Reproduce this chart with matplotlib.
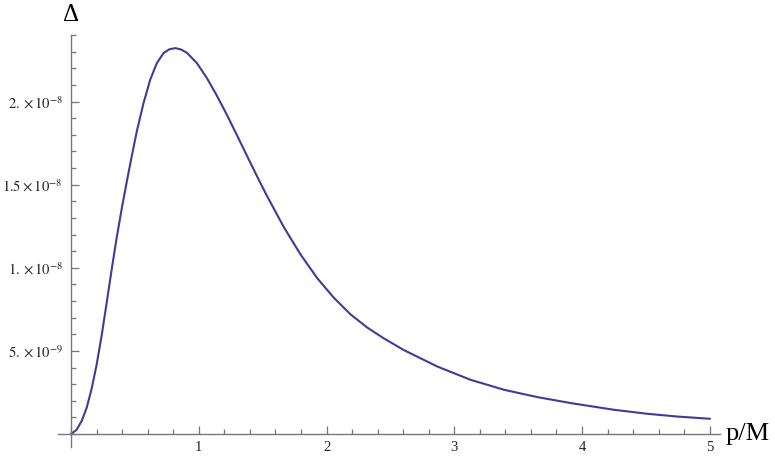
import matplotlib.pyplot as plt
from matplotlib.ticker import FixedLocator, MultipleLocator

# values (delta in units of 1e-9)
p_over_m = [0, 0.044, 0.084, 0.123, 0.162, 0.201, 0.241, 0.28, 0.319, 0.358,
            0.40, 0.436, 0.476, 0.515, 0.567, 0.62, 0.672, 0.724, 0.77, 0.816,
            0.86, 0.907, 0.986, 1.064, 1.143, 1.221, 1.30, 1.378, 1.47, 1.535,
            1.665, 1.796, 1.927, 2.057, 2.188, 2.32, 2.45, 2.606, 2.868, 3.129,
            3.391, 3.652, 3.914, 4.25, 4.51, 4.75, 5.0]
delta_e9 = [0, 0.26, 0.80, 1.60, 2.75, 4.2, 6.0, 7.95, 9.95, 11.85,
            13.7, 15.17, 16.75, 18.22, 19.9, 21.33, 22.32, 22.92, 23.15, 23.22,
            23.14, 22.94, 22.31, 21.41, 20.34, 19.19, 17.96, 16.73, 15.29, 14.31,
            12.46, 10.81, 9.38, 8.20, 7.20, 6.40, 5.75, 5.05, 4.06, 3.26,
            2.66, 2.22, 1.86, 1.46, 1.22, 1.05, 0.92]
delta = [d * 1e-9 for d in delta_e9]

y_ticks = [5e-9, 1e-8, 1.5e-8, 2e-8]
y_tick_labels = [r"$5.\times 10^{-9}$", r"$1.\times 10^{-8}$",
                 r"$1.5\times 10^{-8}$", r"$2.\times 10^{-8}$"]
x_ticks = [1, 2, 3, 4, 5]
x_tick_labels = ["1", "2", "3", "4", "5"]

plt.rcParams['font.family'] = ['Liberation Serif', 'DejaVu Serif']
plt.rcParams['mathtext.fontset'] = 'stix'

axis_col = '#777777'
text_col = '#222222'

fig = plt.figure(figsize=(7.75, 4.58), dpi=100)
ax = fig.add_axes([0.0742, 0.024, 0.929 - 0.0742, 0.9236 - 0.024])

ax.plot(p_over_m, delta, color='#3d3d99', lw=1.5, solid_joinstyle='round')

ax.set_xlim(-0.106, 5.08)
ax.set_ylim(-0.78e-9, 2.401e-8)

for s in ['top', 'right']:
    ax.spines[s].set_visible(False)
for s in ['left', 'bottom']:
    ax.spines[s].set_position(('data', 0))
    ax.spines[s].set_color(axis_col)
    ax.spines[s].set_linewidth(1.0)

ax.xaxis.set_major_locator(FixedLocator(x_ticks))
ax.set_xticklabels(x_tick_labels)
ax.xaxis.set_minor_locator(MultipleLocator(0.2))
ax.yaxis.set_major_locator(FixedLocator(y_ticks))
ax.set_yticklabels(y_tick_labels)
ax.yaxis.set_minor_locator(MultipleLocator(1e-9))

ax.tick_params(which='both', direction='in', color=axis_col, width=0.9,
               labelcolor=text_col, labelsize=10.5)
ax.tick_params(which='major', length=5.5)
ax.tick_params(which='minor', length=3.5)
ax.tick_params(axis='x', pad=5)
ax.tick_params(axis='y', pad=6)

fig.text(71 / 775, 1 - 21 / 458, "Δ", ha='center', va='baseline',
         fontsize=18, color='black')
fig.text(726 / 775, 1 - 440 / 458, "p/M", ha='left', va='baseline',
         fontsize=19, color='black')

fig.savefig('out.png', dpi=100)
